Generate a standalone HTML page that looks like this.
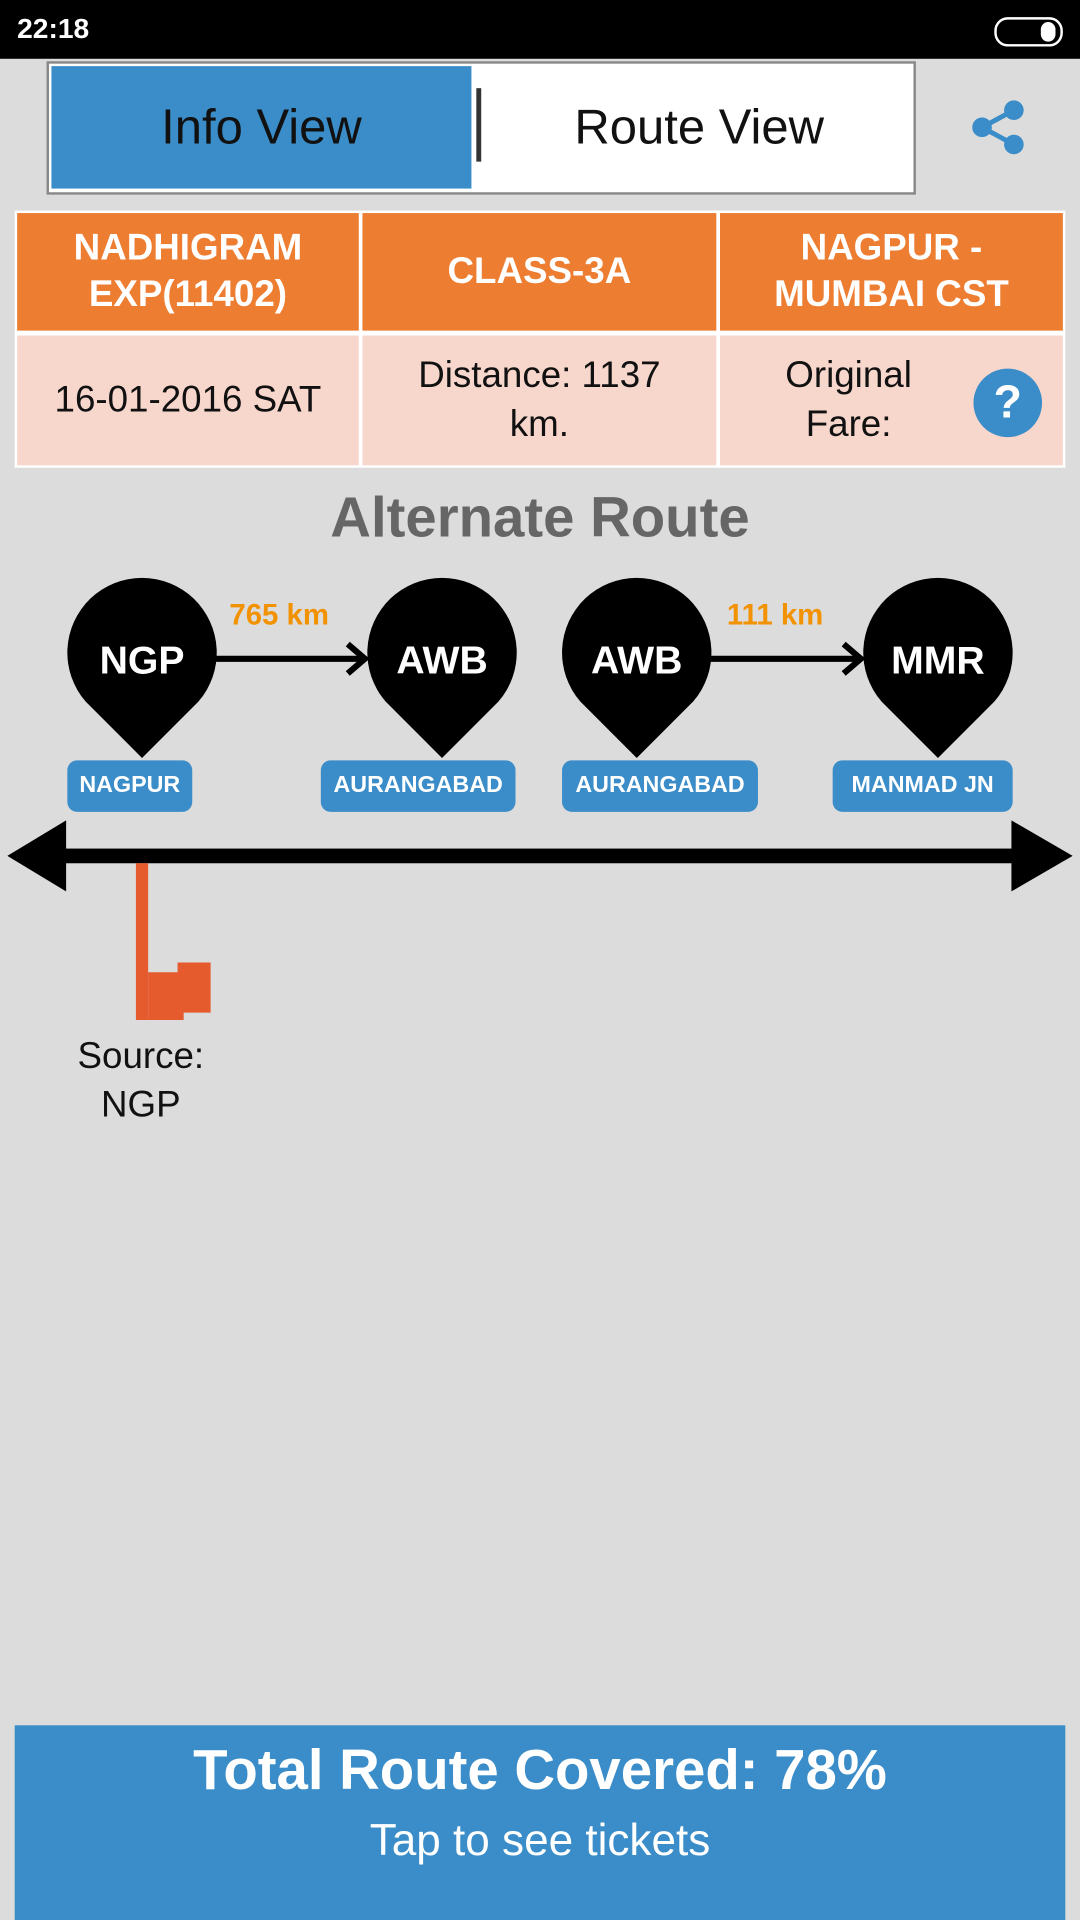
<!DOCTYPE html>
<html><head><meta charset="utf-8"><style>
html,body{margin:0;padding:0;width:1080px;height:1920px;overflow:hidden;background:#dcdcdc}
#w{position:absolute;left:0;top:0;width:882px;height:1568px;transform:scale(1.22449);transform-origin:0 0;font-family:"Liberation Sans",sans-serif}
.a{position:absolute}
.c{position:absolute;display:flex;align-items:center;justify-content:center;text-align:center}
.lbl{position:absolute;background:#3a8dc8;color:#fff;font-weight:bold;font-size:19px;border-radius:8px;display:flex;align-items:center;justify-content:center;height:42px;top:621px}
</style></head><body><div id="w">
<div class="a" style="left:0;top:0;width:882px;height:48px;background:#000"></div>
<div class="a" style="left:14px;top:10px;color:#fff;font-weight:bold;font-size:23px">22:18</div>
<div class="a" style="left:812px;top:14px;width:52px;height:20px;border:2px solid #fff;border-radius:11px"></div>
<div class="a" style="left:850px;top:18px;width:12px;height:16px;background:#fff;border-radius:8px"></div>

<div class="a" style="left:38px;top:50px;width:706px;height:105px;border:2px solid #888;background:#fff;box-sizing:content-box"></div>
<div class="c" style="left:42px;top:54px;width:343px;height:100px;background:#3a8dc8;font-size:40px;color:#111">Info View</div>
<div class="a" style="left:389px;top:72px;width:4px;height:60px;background:#333"></div>
<div class="c" style="left:400px;top:54px;width:342px;height:100px;font-size:40px;color:#111">Route View</div>
<svg class="a" style="left:788px;top:78px" width="54" height="54"><g fill="#3a8dc8" stroke="#3a8dc8"><line x1="14" y1="26" x2="40" y2="12" stroke-width="4"/><line x1="14" y1="26" x2="40" y2="40" stroke-width="4"/><circle cx="14" cy="26" r="8" stroke="none"/><circle cx="40" cy="12" r="8" stroke="none"/><circle cx="40" cy="40" r="8" stroke="none"/></g></svg>

<div class="a" style="left:12px;top:172px;width:858px;height:210px;background:#fff"></div>
<div class="c" style="left:14px;top:174px;width:279px;height:96px;background:#ed7d31;color:#fff;font-weight:bold;font-size:30px;line-height:38px">NADHIGRAM<br>EXP(11402)</div>
<div class="c" style="left:296px;top:174px;width:289px;height:96px;background:#ed7d31;color:#fff;font-weight:bold;font-size:30px">CLASS-3A</div>
<div class="c" style="left:588px;top:174px;width:280px;height:96px;background:#ed7d31;color:#fff;font-weight:bold;font-size:30px;line-height:38px">NAGPUR -<br>MUMBAI CST</div>
<div class="c" style="left:14px;top:274px;width:279px;height:106px;background:#f7d6cc;font-size:30px;color:#111">16-01-2016 SAT</div>
<div class="c" style="left:296px;top:274px;width:289px;height:106px;background:#f7d6cc;font-size:30px;color:#111;line-height:40px">Distance: 1137<br>km.</div>
<div class="c" style="left:588px;top:274px;width:280px;height:106px;background:#f7d6cc;font-size:30px;color:#111;line-height:40px;justify-content:flex-start"><span style="margin-left:30px;width:150px">Original<br>Fare:</span></div>
<div class="c" style="left:795px;top:301px;width:56px;height:56px;border-radius:50%;background:#3a8dc8;color:#fff;font-weight:bold;font-size:38px">?</div>

<div class="c" style="left:0;top:392px;width:882px;height:60px;font-weight:bold;font-size:46px;color:#666">Alternate Route</div>

<svg class="a" style="left:0;top:470px" width="882" height="270">
<defs><path id="pin" d="M0 149 L-46 103 A61 61 0 1 1 46 103 Z"/></defs>
<g fill="#000"><use href="#pin" x="116"/><use href="#pin" x="361"/><use href="#pin" x="520"/><use href="#pin" x="766"/></g>
<g stroke="#000" stroke-width="5" fill="none"><line x1="176" y1="68" x2="297" y2="68"/><polyline points="284,56 298,68 284,80"/><line x1="580" y1="68" x2="702" y2="68"/><polyline points="689,56 703,68 689,80"/></g>
<g fill="#fff" font-weight="bold" font-size="32" text-anchor="middle" font-family="Liberation Sans,sans-serif"><text x="116" y="80">NGP</text><text x="361" y="80">AWB</text><text x="520" y="80">AWB</text><text x="766" y="80">MMR</text></g>
<g fill="#f39200" font-weight="bold" font-size="24" text-anchor="middle" font-family="Liberation Sans,sans-serif"><text x="228" y="40">765 km</text><text x="633" y="40">111 km</text></g>
<rect x="52" y="223" width="776" height="12" fill="#000"/>
<polygon points="6,229 54,200 54,258" fill="#000"/><polygon points="876,229 826,200 826,258" fill="#000"/>
</svg>
<div class="lbl" style="left:55px;width:102px">NAGPUR</div>
<div class="lbl" style="left:262px;width:159px">AURANGABAD</div>
<div class="lbl" style="left:459px;width:160px">AURANGABAD</div>
<div class="lbl" style="left:680px;width:147px">MANMAD JN</div>

<svg class="a" style="left:100px;top:700px" width="80" height="140"><rect x="11" y="5" width="10" height="128" fill="#e55b2d"/><polygon points="21,94 45,94 45,86 72,86 72,127 50,127 50,133 21,133" fill="#e55b2d"/></svg>
<div class="c" style="left:15px;top:843px;width:200px;font-size:30px;line-height:40px;color:#111">Source:<br>NGP</div>

<div class="a" style="left:12px;top:1409px;width:858px;height:159px;background:#3a8dc8"></div>
<div class="c" style="left:12px;top:1415px;width:858px;height:60px;color:#fff;font-weight:bold;font-size:46px">Total Route Covered: 78%</div>
<div class="c" style="left:12px;top:1480px;width:858px;height:46px;color:#fff;font-size:36px">Tap to see tickets</div>
</div></body></html>
